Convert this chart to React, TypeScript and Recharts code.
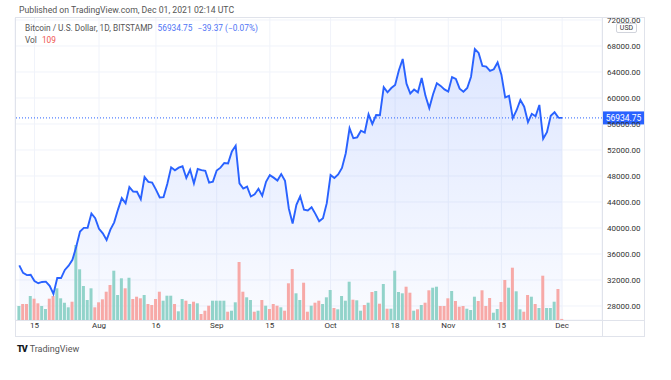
import React from 'react';
import { ComposedChart, Area, Bar, Line, Cell, XAxis, YAxis, CartesianGrid, ReferenceLine } from 'recharts';

// daily closes, Jul 11 -> Dec 1 2021 (BTC/USD, Bitstamp)
const julClose = [34250, 33100, 32750, 32800, 31850, 31500, 31700, 31750, 31100, 29850, 32300, 32300, 33550, 34200, 35100, 37100, 39460, 40020, 40030, 42230, 41500];
const augClose = [39880, 39170, 38150, 39740, 40870, 42830, 44600, 43800, 46300, 45600, 45580, 44430, 47830, 47100, 46990, 45900, 44700, 44750, 46800, 49330, 48870, 49280, 49500, 47700, 48950, 46850, 49070, 48900, 48800, 46990, 47130];
const sepClose = [48850, 49280, 50000, 49940, 51770, 52660, 46860, 46080, 46370, 44850, 45170, 46030, 44960, 47100, 48130, 47750, 47300, 48300, 47250, 43000, 40700, 43560, 44880, 42820, 42700, 43200, 42170, 41030, 41520, 43820];
const octClose = [48140, 47690, 48230, 49230, 51500, 55340, 53810, 53950, 54960, 54690, 57480, 56010, 57370, 57350, 61670, 60880, 61530, 62010, 64280, 66000, 62210, 60690, 61300, 60870, 63080, 60330, 58460, 60580, 62260, 61860, 61320];
const novClose = [61000, 63220, 62940, 61430, 60970, 61530, 63280, 67530, 66940, 64930, 64840, 64160, 64410, 65470, 63600, 60100, 60340, 56900, 58120, 59700, 58660, 56300, 57570, 57180, 58930, 53720, 54740, 57270, 57800, 56974.12];
const decClose = [56934.75];

// daily volume (BTC)
const julVol = [1400, 1600, 1600, 2400, 2130, 1670, 1400, 1100, 2130, 2400, 3170, 2170, 1730, 1270, 1830, 7500, 5070, 3400, 2000, 3170, 1270];
const augVol = [1770, 2070, 2830, 3500, 4930, 2500, 4170, 3170, 4230, 2100, 2330, 2170, 2500, 1600, 1500, 2100, 2830, 1930, 2430, 2430, 1600, 870, 2100, 1930, 1600, 1830, 1670, 600, 930, 1430, 1930];
const sepVol = [1930, 1930, 1930, 830, 930, 1770, 5800, 2830, 2270, 2000, 830, 930, 2000, 1430, 1100, 1600, 1430, 1270, 930, 3670, 5100, 2670, 2000, 3730, 830, 1430, 1730, 1930, 1600, 2270];
const octVol = [3000, 1200, 1070, 2400, 1930, 3830, 2030, 1970, 930, 1500, 1730, 2800, 2900, 1630, 3600, 1130, 1130, 4930, 2800, 2670, 3330, 2730, 930, 1070, 1500, 1730, 2970, 3230, 3330, 1400, 1400];
const novVol = [2170, 2900, 1900, 1330, 1400, 1130, 1000, 2330, 1900, 2970, 1400, 2200, 730, 1100, 1800, 4000, 3230, 5230, 2870, 1070, 830, 2500, 2330, 1600, 1200, 4430, 1200, 1200, 1830, 3100];
const decVol = [109];

// candle direction per day: g = up, r = down
const julDir = 'grrgrrggrrggggrgggggr';
const augDir = 'rrrrgggrgrrrgrrrrgggrggrgrgrrrg';
const sepDir = 'gggrggrrggrgrgrrrgrrrggrrgrrgg';
const octDir = 'grggggrggrgrgrgrggggrrgrgrrggrr';
const novDir = 'rgrrrgggrrrrggrrgrggrrgrgrgggr';
const decDir = 'r';

// day index (0 = Jul 11) -> label
const tickIdx = [4, 21, 36, 52, 66, 82, 99, 113, 127, 143];
const tickLabels = ['15', 'Aug', '16', 'Sep', '15', 'Oct', '18', 'Nov', '15', 'Dec'];
const priceTicks = [28000, 32000, 36000, 40000, 44000, 48000, 52000, 56000, 60000, 64000, 68000, 72000];

const closes = [...julClose, ...augClose, ...sepClose, ...octClose, ...novClose, ...decClose];
const vols = [...julVol, ...augVol, ...sepVol, ...octVol, ...novVol, ...decVol];
const dirs = (julDir + augDir + sepDir + octDir + novDir + decDir).split('');

const data = closes.map((c, i) => ({ i, close: c, vol: vols[i], dir: dirs[i] }));
const last = closes[closes.length - 1];
const prev = closes[closes.length - 2];

const BLUE = '#2962ff';
const UP = '#92d3ca';
const DOWN = '#f7a9a7';
const FONT = 'Roboto, "Noto Sans", sans-serif';

const PriceLabel = (props: any) => {
  const vb = props.viewBox;
  if (!vb) return null;
  const x = vb.x + vb.width;
  return (
    <g>
      <rect x={x} y={vb.y - 6.5} width={43} height={13} fill={BLUE} />
      <text x={x + 21.5} y={vb.y + 3} fill="#fff" fontSize={8.5} textAnchor="middle" fontFamily={FONT}>
        {last.toFixed(2)}
      </text>
    </g>
  );
};

export default function App() {
  const chg = last - prev;
  return (
    <div style={{ position: 'absolute', left: 0, top: 0, width: 671, height: 380, background: '#fff', fontFamily: FONT, overflow: 'hidden' }}>
      <ComposedChart width={671} height={380} data={data} margin={{ top: 17, right: 26, bottom: 43, left: 15 }} style={{ position: 'absolute', left: 0, top: 0 }}>
        <defs>
          <linearGradient id="areaFill" x1="0" y1="0" x2="0" y2="1">
            <stop offset="0%" stopColor={BLUE} stopOpacity={0.26} />
            <stop offset="100%" stopColor={BLUE} stopOpacity={0.04} />
          </linearGradient>
        </defs>
        <CartesianGrid stroke="#f0f3fa" yAxisId="p" />
        <XAxis
          type="number"
          dataKey="i"
          domain={[-1.13, 153.5]}
          allowDataOverflow
          ticks={tickIdx}
          tickFormatter={(v: number) => tickLabels[tickIdx.indexOf(v)] ?? ''}
          height={17}
          axisLine={false}
          tickLine={false}
          tickSize={2}
          tickMargin={0}
          tick={{ fill: '#333', fontSize: 8, fontFamily: FONT }}
        />
        <YAxis
          yAxisId="p"
          orientation="right"
          width={43}
          domain={[25846, 72461]}
          allowDataOverflow
          ticks={priceTicks}
          tickFormatter={(v: number) => v.toFixed(2)}
          axisLine={false}
          tickLine={false}
          tickSize={3}
          tickMargin={2}
          tick={{ fill: '#333', fontSize: 8, fontFamily: FONT }}
        />
        <YAxis yAxisId="v" hide domain={[0, 30300]} />
        <Area yAxisId="p" dataKey="close" type="linear" stroke="none" fill="url(#areaFill)" isAnimationActive={false} />
        <Bar yAxisId="v" dataKey="vol" barSize={3} isAnimationActive={false}>
          {data.map((d) => (
            <Cell key={d.i} fill={d.dir === 'g' ? UP : DOWN} />
          ))}
        </Bar>
        <Line yAxisId="p" dataKey="close" type="linear" stroke={BLUE} strokeWidth={1.9} dot={false} isAnimationActive={false} />
        <ReferenceLine yAxisId="p" y={last} stroke={BLUE} strokeDasharray="1 2" strokeWidth={1} label={<PriceLabel />} />
      </ComposedChart>

      {/* pane frame */}
      <div style={{ position: 'absolute', left: 0, top: 0, width: 671, height: 18, background: '#fff' }} />
      <div style={{ position: 'absolute', left: 19, top: 5, fontSize: 8.7, color: '#555', whiteSpace: 'nowrap' }}>
        Published on TradingView.com, Dec 01, 2021 02:14 UTC
      </div>
      <div style={{ position: 'absolute', left: 15, top: 17, width: 630, height: 320, border: '1px solid #e0e3eb', boxSizing: 'border-box' }} />
      <div style={{ position: 'absolute', left: 602, top: 17, width: 1, height: 320, background: '#e0e3eb' }} />
      <div style={{ position: 'absolute', left: 15, top: 320, width: 630, height: 1, background: '#e0e3eb' }} />

      <div style={{ position: 'absolute', left: 616, top: 23, width: 21, height: 10, border: '1px solid #d1d4dc', borderRadius: 2, boxSizing: 'border-box', background: '#fff', fontSize: 7, color: '#333', textAlign: 'center', lineHeight: '8px' }}>
        USD
      </div>

      <div style={{ position: 'absolute', left: 25, top: 23, fontSize: 8.3, color: '#555', whiteSpace: 'nowrap' }}>
        Bitcoin / U.S. Dollar, 1D, BITSTAMP
        <span style={{ color: '#4f74f5', marginLeft: 5 }}>{last.toFixed(2)}</span>
        <span style={{ color: '#4f74f5', marginLeft: 5 }}>
          {chg.toFixed(2).replace('-', '−')} ({((chg / prev) * 100).toFixed(2).replace('-', '−')}%)
        </span>
      </div>
      <div style={{ position: 'absolute', left: 25, top: 35, fontSize: 8.3, color: '#555' }}>
        Vol <span style={{ color: '#ef5350', marginLeft: 3 }}>{vols[vols.length - 1]}</span>
      </div>

      <div style={{ position: 'absolute', left: 17, top: 344, fontSize: 9, color: '#555', whiteSpace: 'nowrap' }}>
        <span style={{ fontWeight: 900, color: '#131722', letterSpacing: -1, marginRight: 3 }}>TV</span>
        TradingView
      </div>
    </div>
  );
}
